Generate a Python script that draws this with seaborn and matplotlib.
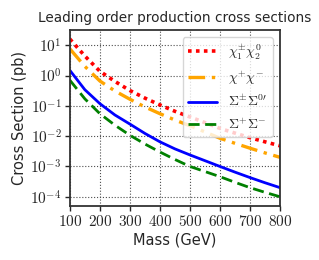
import matplotlib
matplotlib.use("Agg")
import matplotlib.pyplot as plt
import matplotlib.ticker as mticker
import numpy as np
import seaborn as sns
import pandas as pd

# masses in GeV and cross sections in pb
mass = [100, 150, 200, 250, 300, 350, 400, 450, 500, 550, 600, 650, 700, 750, 800]
xsec_chi1chi2 = [16.0, 4.4, 1.38, 0.64, 0.32, 0.18, 0.107, 0.066, 0.043, 0.028, 0.018, 0.0126, 0.0089, 0.0065, 0.0048]
xsec_chipchim = [7.6, 2.0, 0.66, 0.31, 0.165, 0.092, 0.055, 0.034, 0.022, 0.0138, 0.0085, 0.0058, 0.0040, 0.0028, 0.0020]
xsec_sigpm_sig0 = [1.48, 0.34, 0.118, 0.050, 0.025, 0.0123, 0.0065, 0.0038, 0.0024, 0.00155, 0.0010, 0.00065, 0.00043, 0.00029, 0.0002]
xsec_sigpsigm = [0.70, 0.17, 0.055, 0.023, 0.0107, 0.0055, 0.003, 0.0017, 0.001, 0.00068, 0.00046, 0.0003, 0.0002, 0.00014, 0.0001]

labels = [r'$\chi_1^{\pm}\chi_2^0$', r'$\chi^{+}\chi^{-}$', r"$\Sigma^{\pm}\Sigma^{0\prime}$", r'$\Sigma^{+}\Sigma^{-}$']
series = [xsec_chi1chi2, xsec_chipchim, xsec_sigpm_sig0, xsec_sigpsigm]
colors = ['red', 'orange', 'blue', 'green']
styles = [(0, (1, 1.2)), (0, (5, 2, 1, 2)), '-', (0, (4, 2))]
widths = [2.6, 2.4, 2.0, 2.0]

sns.set_style("ticks")
plt.rcParams['font.family'] = ['DejaVu Sans']
plt.rcParams['mathtext.fontset'] = 'cm'

fig = plt.figure(figsize=(3.19, 2.60), dpi=100)
ax = fig.add_axes([0.219, 0.208, 0.659, 0.677])

for lab, vals, c, ls, lw in zip(labels, series, colors, styles, widths):
    df = pd.DataFrame({'mass': mass, 'xsec': vals})
    sns.lineplot(data=df, x='mass', y='xsec', ax=ax, color=c, linestyle=ls,
                 linewidth=lw, label=lab)

ax.set_yscale('log')
ax.set_xlim(100, 800)
ax.set_ylim(5e-5, 32)
ax.xaxis.set_major_locator(mticker.MultipleLocator(100))
ax.xaxis.set_major_formatter(mticker.FuncFormatter(lambda v, p: r'$%d$' % v))
ax.yaxis.set_major_locator(mticker.LogLocator(base=10, numticks=10))
ax.yaxis.set_major_formatter(mticker.FuncFormatter(
    lambda v, p: r'$10^{%d}$' % int(round(np.log10(v)))))
ax.tick_params(labelsize=11, width=1.0, pad=2.5)
ax.tick_params(which='minor', length=2)
ax.grid(True, which='major', linestyle=':', color='0.3', linewidth=0.8)
for s in ax.spines.values():
    s.set_linewidth(1.3)
    s.set_color('0.2')

ax.set_xlabel('Mass (GeV)', fontsize=10.5, labelpad=2)
ax.set_ylabel('Cross Section (pb)', fontsize=10.5, labelpad=2)
ax.set_title('Leading order production cross sections', fontsize=9.8, pad=6)
ax.legend(loc='upper right', fontsize=10, handlelength=2.1, borderpad=0.4,
          labelspacing=0.5, framealpha=0.8)

fig.savefig('out.png', dpi=100)
